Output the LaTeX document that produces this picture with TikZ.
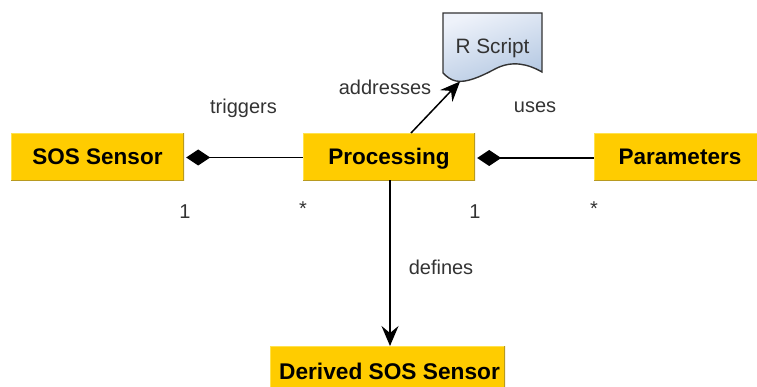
\documentclass[tikz,border=0pt]{standalone}
\usepackage{fontspec}
\setmainfont{Liberation Sans}
\usetikzlibrary{arrows.meta,positioning}
\definecolor{boxfill}{HTML}{FFCC00}
\definecolor{boxdark}{HTML}{B89A20}
\definecolor{boxlight}{HTML}{FFE24D}
\definecolor{ink}{HTML}{333333}
\definecolor{docfrom}{HTML}{EEF2FA}
\definecolor{docto}{HTML}{B4C8E2}
\tikzset{
  classbox/.style={rectangle,fill=boxfill,inner sep=0pt,text=black,
    font=\fontsize{22.5}{24}\selectfont\bfseries,text height=16pt,text depth=0pt,
    path picture={
      \draw[boxlight,line width=1.6pt] (path picture bounding box.south west) -- (path picture bounding box.north west) -- (path picture bounding box.north east);
      \draw[boxdark,line width=1.6pt] (path picture bounding box.south west) -- (path picture bounding box.south east) -- (path picture bounding box.north east);
    }},
  lbl/.style={inner sep=0pt,text=ink,font=\fontsize{20}{22}\selectfont},
  conn/.style={draw=black,line width=1.5pt},
  arrowconn/.style={conn,-{Stealth[length=20pt,width=17pt,inset=7pt]}},
  diamondconn/.style={conn,{Diamond[length=24pt,width=16pt]}-},
}
\begin{document}
\begin{tikzpicture}[x=1pt,y=-1pt]
\useasboundingbox (0,0) rectangle (757,387);
\clip (0,0) rectangle (757,387);
% classes
\node[classbox,minimum width=173pt,minimum height=47pt] (sos) at (97.5,157) {SOS Sensor};
\node[classbox,minimum width=172pt,minimum height=47pt] (proc) at (389,157) {Processing};
\node[classbox,minimum width=172pt,minimum height=47pt] (param) at (680,157) {Parameters};
\node[classbox,minimum width=235pt,minimum height=60pt] (derived) at (387.5,376) {};
\node[font=\fontsize{22.7}{24}\selectfont\bfseries,inner sep=0pt,text=black] (derivedtext) at (389.5,371) {Derived SOS Sensor};
% document shape
\shade[left color=docfrom,right color=docto,shading angle=20,draw=ink,line width=1.4pt]
  (443,13) -- (542,13) -- (542,72)
  .. controls (528,64) and (512,60) .. (495,69)
  .. controls (480,77) and (466,83) .. (456,81)
  .. controls (451,80) and (447,77) .. (443,73) -- cycle;
\node[lbl,font=\fontsize{20.8}{22}\selectfont] (rscript) at (492.5,48) {R Script};
\coordinate (docbottom) at (460,81.5);
\coordinate (procout) at (411,133);
\coordinate (procdown) at (390,180.5);
\coordinate (derivedin) at (390,346);
% connectors
\draw[diamondconn] (sos.east) ++(2,0.5) coordinate (sosd) -- (proc.west |- sosd);
\draw[diamondconn] (proc.east) ++(2,1) coordinate (procd) -- (param.west |- procd);
\draw[arrowconn] (procout) -- (docbottom);
\draw[arrowconn] (procdown) -- (derivedin);
% labels
\node[lbl] (ltrig) at (243.5,108) {triggers};
\node[lbl] (laddr) at (385,87) {addresses};
\node[lbl] (luses) at (535,107) {uses};
\node[lbl] (ldef) at (441,267) {defines};
\node[lbl] (m1) at (185,212) {1};
\node[lbl] (m2) at (303,209) {*};
\node[lbl] (m3) at (475,212) {1};
\node[lbl] (m4) at (594,209) {*};
\end{tikzpicture}
\end{document}
